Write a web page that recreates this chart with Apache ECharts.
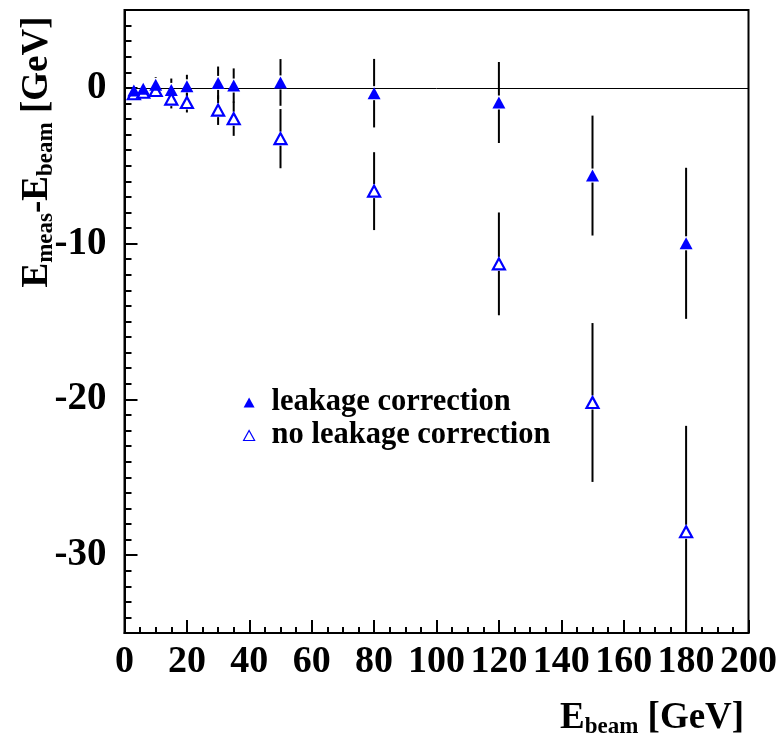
<!DOCTYPE html>
<html><head><meta charset="utf-8">
<script src="https://cdn.jsdelivr.net/npm/echarts@6/dist/echarts.min.js"></script>
<style>html,body{margin:0;padding:0;background:#fff}#c{width:779px;height:736px}</style>
</head><body><div id="c"></div>
<script>
// ---- data ----
const beamEnergies   = [3, 6, 10, 15, 20, 30, 35, 50, 80, 120, 150, 180];
const leakCorr       = [-0.17, -0.06, 0.2, -0.13, 0.1, 0.32, 0.15, 0.35, -0.34, -0.94, -5.63, -9.98];
const leakCorrErr    = [0.3, 0.3, 0.5, 0.73, 0.74, 1.05, 1.1, 1.5, 2.2, 2.6, 3.85, 4.85];
const noLeakCorr     = [-0.38, -0.28, -0.17, -0.72, -0.94, -1.43, -1.98, -3.26, -6.63, -11.3, -20.2, -28.5];
const noLeakCorrErr  = [0.3, 0.3, 0.3, 0.6, 0.64, 0.95, 1.1, 1.9, 2.5, 3.3, 5.1, 6.8];
const yMajorTicks    = [-30, -20, -10, 0];
const seriesNames    = ['leakage correction', 'no leakage correction'];

const FONT = '"Liberation Serif", "DejaVu Serif", serif';
const BLUE = '#0000ff';
const Y_MIN = -35, Y_MAX = 5;

const chart = echarts.init(document.getElementById('c'), null, {renderer: 'canvas'});

function errRender(params, api) {
  const x = api.value(0), y = api.value(1), e = api.value(2);
  const c = api.coord([x, y]);
  const top = api.coord([x, Math.min(y + e, Y_MAX)]);
  const bot = api.coord([x, Math.max(y - e, Y_MIN)]);
  const gap = 7;
  const style = {stroke: '#000', lineWidth: 2};
  const children = [];
  if (c[1] - gap > top[1]) children.push({type: 'line', shape: {x1: c[0], y1: top[1], x2: c[0], y2: c[1] - gap}, style});
  if (bot[1] > c[1] + gap) children.push({type: 'line', shape: {x1: c[0], y1: c[1] + gap, x2: c[0], y2: bot[1]}, style});
  return {type: 'group', children};
}

const leakPts = beamEnergies.map((x, i) => [x, leakCorr[i]]);
const noLeakPts = beamEnergies.map((x, i) => [x, noLeakCorr[i]]);
const leakErrPts = beamEnergies.map((x, i) => [x, leakCorr[i], leakCorrErr[i]]);
const noLeakErrPts = beamEnergies.map((x, i) => [x, noLeakCorr[i], noLeakCorrErr[i]]);

const big = {fontFamily: FONT, fontWeight: 'bold', fontSize: 37, verticalAlign: 'top', color: '#000'};
const sub = {fontFamily: FONT, fontWeight: 'bold', fontSize: 23, verticalAlign: 'top', padding: [16, 0, 0, 0], color: '#000'};

const option = {
  animation: false,
  backgroundColor: '#fff',
  grid: {left: 124.5, right: 30.5, top: 10, bottom: 103, show: true, borderColor: '#000', borderWidth: 2, backgroundColor: 'transparent', outerBoundsMode: 'none'},
  xAxis: {
    type: 'value', min: 0, max: 200, interval: 20,
    axisLine: {show: true, onZero: false, lineStyle: {color: '#000', width: 2}},
    axisTick: {show: true, inside: true, length: 13, lineStyle: {color: '#000', width: 2}},
    minorTick: {show: true, splitNumber: 4, length: 6, lineStyle: {color: '#000', width: 2}},
    splitLine: {show: false},
    axisLabel: {interval: 0, margin: 10, color: '#000', fontFamily: FONT, fontWeight: 'bold', fontSize: 38}
  },
  yAxis: [{
    type: 'value', min: Y_MIN, max: Y_MAX, interval: 1,
    axisLine: {show: true, onZero: false, lineStyle: {color: '#000', width: 2}},
    axisTick: {show: true, inside: true, length: 7, lineStyle: {color: '#000', width: 2}},
    splitLine: {show: false},
    axisLabel: {customValues: yMajorTicks, margin: 18, color: '#000', fontFamily: FONT, fontWeight: 'bold', fontSize: 39}
  }, {
    type: 'value', min: Y_MIN, max: Y_MAX, interval: 1, position: 'left',
    axisLine: {show: false},
    axisTick: {show: true, inside: true, length: 13, customValues: yMajorTicks, lineStyle: {color: '#000', width: 2}},
    splitLine: {show: false},
    axisLabel: {show: false}
  }],
  legend: {
    orient: 'vertical', left: 238, top: 382, itemGap: 2,
    itemWidth: 11, itemHeight: 10,
    textStyle: {fontFamily: FONT, fontWeight: 'bold', fontSize: 30.5, color: '#000', padding: [0, 0, 0, 12]},
    data: [
      {name: seriesNames[0], icon: 'triangle', itemStyle: {color: BLUE, borderWidth: 0}},
      {name: seriesNames[1], icon: 'triangle', itemStyle: {color: '#fff', borderColor: BLUE, borderWidth: 1.2}}
    ]
  },
  series: [
    {type: 'custom', name: 'errLeak', renderItem: errRender, data: leakErrPts, z: 2, silent: true, encode: {x: 0, y: 1}},
    {type: 'custom', name: 'errNoLeak', renderItem: errRender, data: noLeakErrPts, z: 2, silent: true, encode: {x: 0, y: 1}},
    {
      type: 'scatter', name: seriesNames[1], data: noLeakPts, symbol: 'triangle', symbolSize: [12, 11], z: 4,
      itemStyle: {color: '#fff', borderColor: BLUE, borderWidth: 2.2, opacity: 1},
      markLine: {silent: true, symbol: 'none', label: {show: false}, lineStyle: {color: '#000', width: 1, type: 'solid'}, data: [{yAxis: 0}], z: 1}
    },
    {type: 'scatter', name: seriesNames[0], data: leakPts, symbol: 'triangle', symbolSize: [13, 12], z: 5,
      itemStyle: {color: BLUE, opacity: 1}}
  ],
  graphic: [
    {type: 'text', x: 38, y: 152, rotation: Math.PI / 2,
      style: {text: '{b|E}{s|meas}{b|-E}{s|beam}{b| [GeV]}', rich: {b: big, s: sub}, align: 'center', verticalAlign: 'middle'}},
    {type: 'text', x: 560, y: 700,
      style: {text: '{b|E}{s|beam}{b| [GeV]}', rich: {b: big, s: sub}, align: 'left', verticalAlign: 'top'}}
  ]
};
chart.setOption(option);
</script>
</body></html>
